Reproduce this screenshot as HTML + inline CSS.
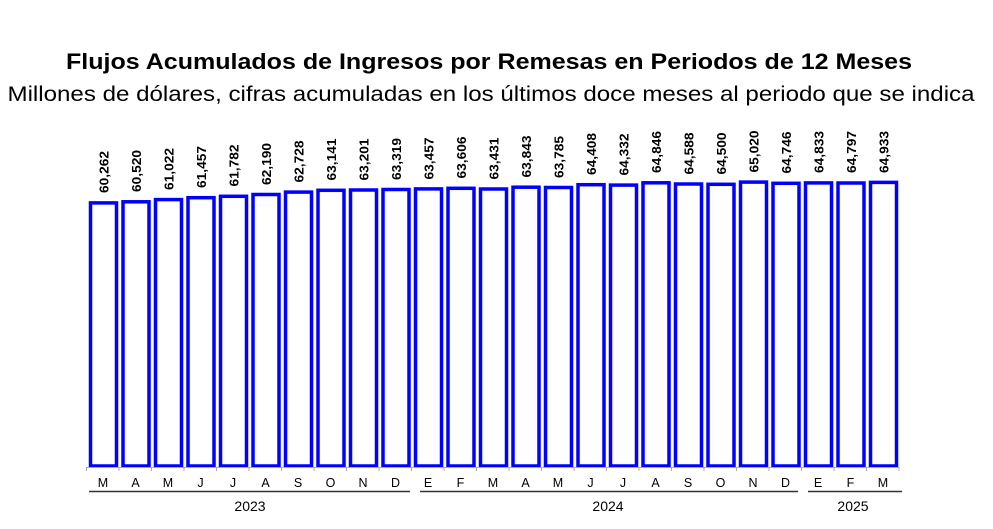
<!DOCTYPE html>
<html><head><meta charset="utf-8"><style>
html,body{margin:0;padding:0;background:#fff;width:993px;height:529px;overflow:hidden}
svg{display:block;font-family:"Liberation Sans",sans-serif}
.b{fill:#fff;stroke:#0000ff;stroke-width:3.5}
.v text{font-size:13px;font-weight:bold;fill:#000}
.m{font-size:12.5px;fill:#000;text-anchor:middle}
</style></head><body>
<svg width="993" height="529" viewBox="0 0 993 529">
<text x="489" y="69" text-anchor="middle" font-size="22" font-weight="bold" textLength="846" lengthAdjust="spacingAndGlyphs">Flujos Acumulados de Ingresos por Remesas en Periodos de 12 Meses</text>
<text x="491" y="101" text-anchor="middle" font-size="21" textLength="967" lengthAdjust="spacingAndGlyphs">Millones de dólares, cifras acumuladas en los últimos doce meses al periodo que se indica</text>
<g>
<rect class="b" x="90.5" y="202.9" width="26" height="263.1"/>
<rect class="b" x="123" y="201.8" width="26" height="264.2"/>
<rect class="b" x="155.5" y="199.6" width="26" height="266.4"/>
<rect class="b" x="188" y="197.7" width="26" height="268.3"/>
<rect class="b" x="220.5" y="196.3" width="26" height="269.7"/>
<rect class="b" x="253" y="194.5" width="26" height="271.5"/>
<rect class="b" x="285.5" y="192.1" width="26" height="273.9"/>
<rect class="b" x="318" y="190.3" width="26" height="275.7"/>
<rect class="b" x="350.5" y="190" width="26" height="276"/>
<rect class="b" x="383" y="189.5" width="26" height="276.5"/>
<rect class="b" x="415.5" y="188.9" width="26" height="277.1"/>
<rect class="b" x="448" y="188.3" width="26" height="277.7"/>
<rect class="b" x="480.5" y="189" width="26" height="277"/>
<rect class="b" x="513" y="187.2" width="26" height="278.8"/>
<rect class="b" x="545.5" y="187.5" width="26" height="278.5"/>
<rect class="b" x="578" y="184.7" width="26" height="281.3"/>
<rect class="b" x="610.5" y="185.1" width="26" height="280.9"/>
<rect class="b" x="643" y="182.8" width="26" height="283.2"/>
<rect class="b" x="675.5" y="184" width="26" height="282"/>
<rect class="b" x="708" y="184.3" width="26" height="281.7"/>
<rect class="b" x="740.5" y="182.1" width="26" height="283.9"/>
<rect class="b" x="773" y="183.3" width="26" height="282.7"/>
<rect class="b" x="805.5" y="182.9" width="26" height="283.1"/>
<rect class="b" x="838" y="183" width="26" height="283"/>
<rect class="b" x="870.5" y="182.4" width="26" height="283.6"/>
</g>
<g class="v">
<text transform="translate(108.5,193) rotate(-90)" textLength="42" lengthAdjust="spacingAndGlyphs">60,262</text>
<text transform="translate(141,192) rotate(-90)" textLength="42" lengthAdjust="spacingAndGlyphs">60,520</text>
<text transform="translate(173.5,190) rotate(-90)" textLength="42" lengthAdjust="spacingAndGlyphs">61,022</text>
<text transform="translate(206,188) rotate(-90)" textLength="42" lengthAdjust="spacingAndGlyphs">61,457</text>
<text transform="translate(238.5,186.5) rotate(-90)" textLength="42" lengthAdjust="spacingAndGlyphs">61,782</text>
<text transform="translate(271,185) rotate(-90)" textLength="42" lengthAdjust="spacingAndGlyphs">62,190</text>
<text transform="translate(303.5,182.5) rotate(-90)" textLength="42" lengthAdjust="spacingAndGlyphs">62,728</text>
<text transform="translate(336,180.5) rotate(-90)" textLength="42" lengthAdjust="spacingAndGlyphs">63,141</text>
<text transform="translate(368.5,180.5) rotate(-90)" textLength="42" lengthAdjust="spacingAndGlyphs">63,201</text>
<text transform="translate(401,180) rotate(-90)" textLength="42" lengthAdjust="spacingAndGlyphs">63,319</text>
<text transform="translate(433.5,179.5) rotate(-90)" textLength="42" lengthAdjust="spacingAndGlyphs">63,457</text>
<text transform="translate(466,178.5) rotate(-90)" textLength="42" lengthAdjust="spacingAndGlyphs">63,606</text>
<text transform="translate(498.5,179.5) rotate(-90)" textLength="42" lengthAdjust="spacingAndGlyphs">63,431</text>
<text transform="translate(531,177.5) rotate(-90)" textLength="42" lengthAdjust="spacingAndGlyphs">63,843</text>
<text transform="translate(563.5,178) rotate(-90)" textLength="42" lengthAdjust="spacingAndGlyphs">63,785</text>
<text transform="translate(596,175) rotate(-90)" textLength="42" lengthAdjust="spacingAndGlyphs">64,408</text>
<text transform="translate(628.5,175.5) rotate(-90)" textLength="42" lengthAdjust="spacingAndGlyphs">64,332</text>
<text transform="translate(661,173) rotate(-90)" textLength="42" lengthAdjust="spacingAndGlyphs">64,846</text>
<text transform="translate(693.5,174.5) rotate(-90)" textLength="42" lengthAdjust="spacingAndGlyphs">64,588</text>
<text transform="translate(726,174.5) rotate(-90)" textLength="42" lengthAdjust="spacingAndGlyphs">64,500</text>
<text transform="translate(758.5,172.5) rotate(-90)" textLength="42" lengthAdjust="spacingAndGlyphs">65,020</text>
<text transform="translate(791,173.5) rotate(-90)" textLength="42" lengthAdjust="spacingAndGlyphs">64,746</text>
<text transform="translate(823.5,173) rotate(-90)" textLength="42" lengthAdjust="spacingAndGlyphs">64,833</text>
<text transform="translate(856,173) rotate(-90)" textLength="42" lengthAdjust="spacingAndGlyphs">64,797</text>
<text transform="translate(888.5,173) rotate(-90)" textLength="42" lengthAdjust="spacingAndGlyphs">64,933</text>
</g>
<g stroke="#aaa" stroke-width="1">
<line x1="86.5" y1="467.5" x2="899" y2="467.5"/>
<line x1="86.5" y1="467" x2="86.5" y2="471"/><line x1="119" y1="467" x2="119" y2="471"/><line x1="151.5" y1="467" x2="151.5" y2="471"/><line x1="184" y1="467" x2="184" y2="471"/><line x1="216.5" y1="467" x2="216.5" y2="471"/><line x1="249" y1="467" x2="249" y2="471"/><line x1="281.5" y1="467" x2="281.5" y2="471"/><line x1="314" y1="467" x2="314" y2="471"/><line x1="346.5" y1="467" x2="346.5" y2="471"/><line x1="379" y1="467" x2="379" y2="471"/><line x1="411.5" y1="467" x2="411.5" y2="471"/><line x1="444" y1="467" x2="444" y2="471"/><line x1="476.5" y1="467" x2="476.5" y2="471"/><line x1="509" y1="467" x2="509" y2="471"/><line x1="541.5" y1="467" x2="541.5" y2="471"/><line x1="574" y1="467" x2="574" y2="471"/><line x1="606.5" y1="467" x2="606.5" y2="471"/><line x1="639" y1="467" x2="639" y2="471"/><line x1="671.5" y1="467" x2="671.5" y2="471"/><line x1="704" y1="467" x2="704" y2="471"/><line x1="736.5" y1="467" x2="736.5" y2="471"/><line x1="769" y1="467" x2="769" y2="471"/><line x1="801.5" y1="467" x2="801.5" y2="471"/><line x1="834" y1="467" x2="834" y2="471"/><line x1="866.5" y1="467" x2="866.5" y2="471"/><line x1="899" y1="467" x2="899" y2="471"/>
</g>
<g class="m">
<text x="103" y="487">M</text><text x="135.5" y="487">A</text><text x="168" y="487">M</text><text x="200.5" y="487">J</text><text x="233" y="487">J</text><text x="265.5" y="487">A</text><text x="298" y="487">S</text><text x="330.5" y="487">O</text><text x="363" y="487">N</text><text x="395.5" y="487">D</text><text x="428" y="487">E</text><text x="460.5" y="487">F</text><text x="493" y="487">M</text><text x="525.5" y="487">A</text><text x="558" y="487">M</text><text x="590.5" y="487">J</text><text x="623" y="487">J</text><text x="655.5" y="487">A</text><text x="688" y="487">S</text><text x="720.5" y="487">O</text><text x="753" y="487">N</text><text x="785.5" y="487">D</text><text x="818" y="487">E</text><text x="850.5" y="487">F</text><text x="883" y="487">M</text>
</g>
<g stroke="#333" stroke-width="1.5">
<line x1="89" y1="491.5" x2="410" y2="491.5"/>
<line x1="420" y1="491.5" x2="798" y2="491.5"/>
<line x1="808" y1="491.5" x2="902" y2="491.5"/>
</g>
<g font-size="14" text-anchor="middle" fill="#000">
<text x="250" y="511">2023</text>
<text x="608" y="511">2024</text>
<text x="853" y="511">2025</text>
</g>
</svg>
</body></html>
